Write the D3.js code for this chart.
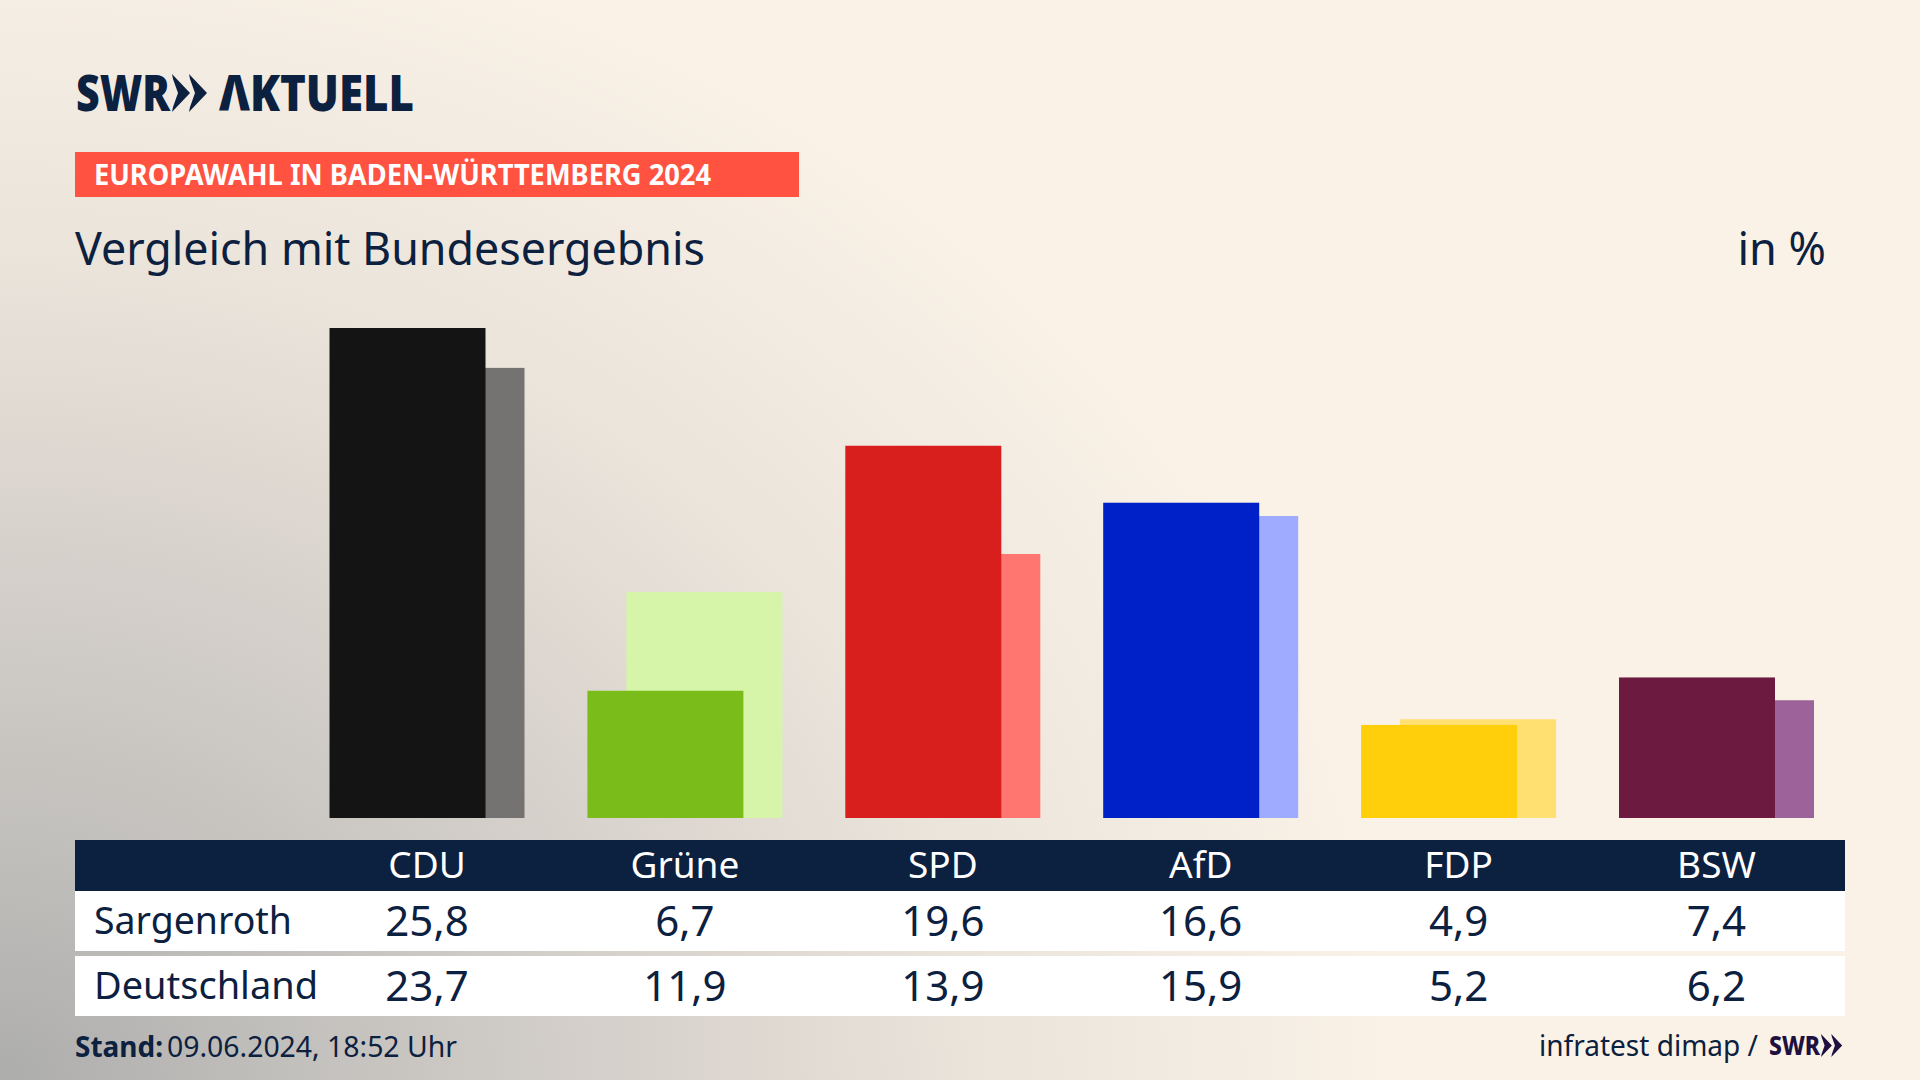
<!DOCTYPE html>
<html>
<head>
<meta charset="utf-8">
<script src="https://cdn.jsdelivr.net/npm/d3@7"></script>
<style>
  html, body { margin: 0; padding: 0; background: #faf2e7; overflow: hidden; }
  svg { display: block; }
  text { font-family: "Noto Sans", sans-serif; fill: #0c2040; }
</style>
</head>
<body>
<svg id="chart" width="1920" height="1080"></svg>
<script>
// values
var parties = ["CDU", "Grüne", "SPD", "AfD", "FDP", "BSW"];
var sargenroth = [25.8, 6.7, 19.6, 16.6, 4.9, 7.4];
var deutschland = [23.7, 11.9, 13.9, 15.9, 5.2, 6.2];
var rowNames = ["Sargenroth", "Deutschland"];
var frontColors = ["#141414", "#7abd1a", "#d81f1e", "#0020c8", "#ffcf0c", "#6c1a40"];
var backColors = ["#757371", "#d6f5a8", "#ff7570", "#9eabff", "#ffe070", "#9c6299"];

var navy = "#0c2040";
var svg = d3.select("#chart");

// background, grey corner bottom left
var grad = svg.append("defs").append("radialGradient")
    .attr("id", "bg").attr("gradientUnits", "userSpaceOnUse")
    .attr("cx", 0).attr("cy", 0).attr("r", 1)
    .attr("gradientTransform", "translate(0,1080) scale(1400,1180)");
[[0, "#adadac"], [0.2, "#c1bfbc"], [0.45, "#d6d1cb"], [0.7, "#ebe4db"], [1, "#faf2e7"]].forEach(function(s) {
    grad.append("stop").attr("offset", s[0]).attr("stop-color", s[1]);
});
svg.append("rect").attr("width", 1920).attr("height", 1080).attr("fill", "url(#bg)");

// chevrons of the logo, h is the full height
function chevrons(g, x, y, h, color) {
    var k = h / 38;
    [0, 17].forEach(function(dx) {
        var p = d3.path();
        p.moveTo(x + dx * k, y);
        p.lineTo(x + (dx + 18) * k, y + 19 * k);
        p.lineTo(x + dx * k, y + 38 * k);
        p.lineTo(x + (dx + 1) * k, y + 33 * k);
        p.lineTo(x + (dx + 6) * k, y + 19 * k);
        p.lineTo(x + (dx + 1) * k, y + 5 * k);
        p.closePath();
        g.append("path").attr("d", p.toString()).attr("fill", color);
    });
}

function label(txt, x, y, size, opts) {
    opts = opts || {};
    var t = svg.append("text").attr("x", x).attr("y", y).attr("font-size", size).text(txt)
        .attr("text-anchor", opts.anchor || "start")
        .attr("font-weight", opts.weight || 400)
        .style("fill", opts.fill || navy);
    if (opts.len) t.attr("textLength", opts.len).attr("lengthAdjust", "spacingAndGlyphs");
    return t;
}

// logo
label("SWR", 76, 111, 50, {weight: 900, len: 94});
chevrons(svg, 172, 74, 38, navy);
label("ΛKTUELL", 219, 111, 50, {weight: 900, len: 195});

// heading
svg.append("rect").attr("x", 75).attr("y", 152).attr("width", 724).attr("height", 45).attr("fill", "#ff5240");
label("EUROPAWAHL IN BADEN-WÜRTTEMBERG 2024", 94, 185, 28, {weight: 700, fill: "#fff", len: 617});
label("Vergleich mit Bundesergebnis", 75, 265, 45, {len: 630});
label("in %", 1826, 265, 45, {anchor: "end"});

// bars
var barW = 156;
var shift = 39;
var step = 257.9;
var x = d3.scaleBand().domain(parties)
    .range([329.5, 329.5 + step * 5 + barW + shift])
    .paddingInner((step - barW - shift) / step).paddingOuter(0);
var y = d3.scaleLinear().domain([0, 25.8]).range([818, 328]);

svg.append("g").selectAll("rect").data(parties).join("rect")
    .attr("x", function(d) { return x(d) + shift; })
    .attr("y", function(d, i) { return y(deutschland[i]); })
    .attr("width", barW)
    .attr("height", function(d, i) { return y(0) - y(deutschland[i]); })
    .attr("fill", function(d, i) { return backColors[i]; });

svg.append("g").selectAll("rect").data(parties).join("rect")
    .attr("x", function(d) { return x(d); })
    .attr("y", function(d, i) { return y(sargenroth[i]); })
    .attr("width", barW)
    .attr("height", function(d, i) { return y(0) - y(sargenroth[i]); })
    .attr("fill", function(d, i) { return frontColors[i]; });

// table
svg.append("rect").attr("x", 75).attr("y", 840).attr("width", 1770).attr("height", 51).attr("fill", navy);
svg.append("rect").attr("x", 75).attr("y", 891).attr("width", 1770).attr("height", 60).attr("fill", "#fff");
svg.append("rect").attr("x", 75).attr("y", 956).attr("width", 1770).attr("height", 60).attr("fill", "#fff");

var header = svg.append("g").attr("transform", "translate(0,878)")
    .call(d3.axisBottom(x).tickSize(0).tickPadding(0));
header.select(".domain").remove();
header.selectAll("text").attr("y", 0).attr("dy", 0)
    .attr("font-size", 37).attr("font-family", '"Noto Sans", sans-serif')
    .style("fill", "#fff");

var fmt = d3.formatLocale({decimal: ",", thousands: ".", grouping: [3], currency: ["", "€"]}).format(".1f");
var cellRows = [sargenroth, deutschland];
var rowBase = [936, 1001];
cellRows.forEach(function(row, r) {
    label(rowNames[r], 94, rowBase[r] - 2, 38, {len: r == 0 ? 198 : 224});
    svg.append("g").selectAll("text").data(row).join("text")
        .attr("x", function(d, i) { return x(parties[i]) + x.bandwidth() / 2; })
        .attr("y", rowBase[r])
        .attr("text-anchor", "middle")
        .attr("font-size", 42)
        .text(function(d) { return fmt(d); });
});

// footer
label("Stand:", 75, 1057, 29, {weight: 700, len: 88});
label("09.06.2024, 18:52 Uhr", 167, 1057, 29, {len: 290});
label("infratest dimap /", 1539, 1056, 29, {len: 219});
label("SWR", 1769, 1055, 27, {weight: 800, fill: "#1e1040", len: 51});
chevrons(svg, 1821, 1034, 23, "#1e1040");
</script>
</body>
</html>
